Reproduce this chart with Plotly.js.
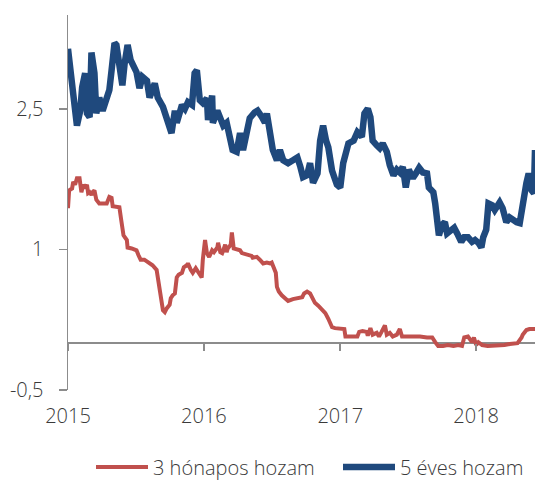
<!DOCTYPE html>
<html>
<head>
<meta charset="utf-8">
<script src="https://cdn.plot.ly/plotly-3.0.1.min.js"></script>
<style>
html,body{margin:0;padding:0;background:#fff;}
#chart{width:535px;height:482px;}
</style>
</head>
<body>
<div id="chart"></div>
<script>
// 3 hónapos hozam (3-month yield)
const redDates = ['2015-01-01','2015-01-04','2015-01-12','2015-01-15','2015-01-20','2015-01-25','2015-02-01','2015-02-06','2015-02-11','2015-02-16','2015-02-21','2015-02-24','2015-02-28','2015-03-05','2015-03-08','2015-03-13','2015-03-18','2015-03-26','2015-04-04','2015-04-15','2015-04-22','2015-04-28','2015-05-01','2015-05-11','2015-05-19','2015-05-24','2015-05-30','2015-06-08','2015-06-10','2015-06-21','2015-07-04','2015-07-09','2015-07-15','2015-07-25','2015-08-06','2015-08-16','2015-08-27','2015-08-30','2015-09-02','2015-09-07','2015-09-13','2015-09-18','2015-09-23','2015-10-01','2015-10-04','2015-10-09','2015-10-15','2015-10-20','2015-10-25','2015-11-03','2015-11-08','2015-11-16','2015-11-19','2015-11-27','2015-12-02','2015-12-10','2015-12-16','2015-12-21','2015-12-26','2015-12-29','2016-01-04','2016-01-09','2016-01-15','2016-01-23','2016-01-28','2016-02-06','2016-02-08','2016-02-14','2016-02-19','2016-02-22','2016-02-27','2016-03-02','2016-03-05','2016-03-13','2016-03-16','2016-03-21','2016-03-29','2016-04-07','2016-04-12','2016-04-20','2016-04-28','2016-05-08','2016-05-11','2016-05-22','2016-05-30','2016-06-08','2016-06-18','2016-06-26','2016-07-01','2016-07-07','2016-07-12','2016-07-15','2016-07-20','2016-07-28','2016-08-06','2016-08-14','2016-08-27','2016-09-10','2016-09-21','2016-09-26','2016-10-04','2016-10-12','2016-10-20','2016-10-25','2016-11-03','2016-11-14','2016-11-22','2016-11-30','2016-12-10','2016-12-18','2017-01-01','2017-01-12','2017-01-15','2017-01-28','2017-02-16','2017-02-21','2017-03-02','2017-03-13','2017-03-16','2017-03-23','2017-03-29','2017-04-09','2017-04-15','2017-04-22','2017-05-01','2017-05-06','2017-05-14','2017-05-22','2017-06-02','2017-06-10','2017-06-16','2017-06-29','2017-07-15','2017-07-25','2017-08-03','2017-08-22','2017-09-05','2017-09-13','2017-09-21','2017-10-04','2017-10-17','2017-11-01','2017-11-14','2017-11-24','2017-11-30','2017-12-10','2017-12-21','2017-12-26','2018-01-01','2018-01-07','2018-01-17','2018-02-01','2018-02-15','2018-03-05','2018-03-18','2018-04-01','2018-04-15','2018-04-22','2018-05-03','2018-05-06','2018-05-16','2018-05-24','2018-06-08'];
const redValues = [1.44,1.63,1.65,1.72,1.69,1.76,1.76,1.61,1.69,1.65,1.69,1.60,1.61,1.58,1.61,1.63,1.53,1.49,1.49,1.49,1.56,1.55,1.46,1.45,1.45,1.31,1.15,1.10,1.02,1.01,0.99,0.94,0.89,0.89,0.86,0.83,0.78,0.70,0.59,0.46,0.35,0.33,0.37,0.41,0.48,0.51,0.53,0.70,0.73,0.75,0.81,0.83,0.85,0.78,0.75,0.80,0.76,0.73,0.70,0.89,1.10,0.96,0.92,0.99,0.97,1.02,1.07,0.97,0.96,0.99,1.05,0.97,1.01,1.05,1.18,1.01,1.00,0.99,0.96,0.95,0.94,0.93,0.91,0.92,0.89,0.85,0.86,0.85,0.86,0.81,0.75,0.60,0.55,0.51,0.47,0.45,0.47,0.48,0.49,0.53,0.55,0.53,0.48,0.43,0.40,0.35,0.32,0.26,0.17,0.16,0.16,0.15,0.07,0.07,0.07,0.12,0.13,0.12,0.08,0.16,0.09,0.11,0.07,0.12,0.19,0.09,0.11,0.07,0.09,0.15,0.07,0.07,0.07,0.08,0.07,0.06,0.06,0.01,-0.03,-0.03,-0.02,-0.03,-0.02,-0.03,0.06,0.07,0.01,0.06,-0.02,0.01,-0.02,-0.03,-0.03,-0.03,-0.02,-0.01,-0.01,0.00,0.06,0.09,0.14,0.15,0.15];

// 5 éves hozam (5-year yield)
const blueDates = ['2015-01-01','2015-01-07','2015-01-15','2015-01-25','2015-02-03','2015-02-08','2015-02-16','2015-02-21','2015-02-28','2015-03-05','2015-03-13','2015-03-18','2015-03-26','2015-04-04','2015-04-15','2015-04-22','2015-04-28','2015-05-06','2015-05-11','2015-05-19','2015-05-27','2015-06-02','2015-06-10','2015-06-18','2015-06-23','2015-07-04','2015-07-12','2015-07-20','2015-08-01','2015-08-08','2015-08-22','2015-08-30','2015-09-13','2015-09-23','2015-10-06','2015-10-15','2015-10-20','2015-11-03','2015-11-11','2015-11-19','2015-11-30','2015-12-07','2015-12-13','2015-12-21','2015-12-29','2016-01-09','2016-01-12','2016-01-23','2016-01-25','2016-02-06','2016-02-14','2016-02-22','2016-03-02','2016-03-10','2016-03-18','2016-03-29','2016-04-07','2016-04-15','2016-04-25','2016-05-03','2016-05-16','2016-05-24','2016-06-05','2016-06-13','2016-06-18','2016-06-26','2016-07-04','2016-07-15','2016-07-23','2016-08-01','2016-08-14','2016-08-27','2016-09-08','2016-09-16','2016-09-23','2016-10-04','2016-10-12','2016-10-20','2016-11-01','2016-11-08','2016-11-16','2016-11-24','2016-11-30','2016-12-10','2016-12-23','2017-01-01','2017-01-09','2017-01-23','2017-02-06','2017-02-16','2017-02-28','2017-03-07','2017-03-16','2017-03-23','2017-03-29','2017-04-09','2017-04-17','2017-04-25','2017-05-06','2017-05-14','2017-05-24','2017-06-02','2017-06-10','2017-06-18','2017-06-26','2017-07-04','2017-07-15','2017-07-23','2017-08-01','2017-08-11','2017-08-22','2017-08-27','2017-09-08','2017-09-13','2017-09-18','2017-09-23','2017-10-01','2017-10-09','2017-10-15','2017-10-25','2017-11-03','2017-11-11','2017-11-22','2017-11-30','2017-12-10','2017-12-21','2017-12-29','2018-01-07','2018-01-15','2018-01-20','2018-01-28','2018-02-03','2018-02-13','2018-02-20','2018-02-28','2018-03-05','2018-03-13','2018-03-23','2018-04-01','2018-04-09','2018-04-20','2018-04-28','2018-05-06','2018-05-16','2018-05-22','2018-05-30','2018-06-05','2018-06-08'];
const blueValues = [3.14,2.98,2.66,2.32,2.48,2.73,2.88,2.45,2.41,3.10,2.88,2.45,2.62,2.48,2.64,2.70,2.91,3.20,3.18,3.00,2.75,2.98,3.18,3.02,2.98,2.89,2.72,2.84,2.80,2.62,2.77,2.62,2.52,2.38,2.24,2.48,2.35,2.54,2.50,2.57,2.54,2.88,2.91,2.59,2.56,2.61,2.38,2.64,2.35,2.48,2.38,2.32,2.35,2.20,2.06,2.04,2.24,2.06,2.27,2.40,2.46,2.48,2.41,2.35,2.45,2.20,2.06,1.95,2.06,1.95,1.92,1.95,1.98,1.88,1.77,1.79,1.92,1.71,1.81,2.16,2.32,2.16,2.09,1.84,1.69,1.66,1.92,2.13,2.16,2.25,2.20,2.45,2.50,2.41,2.16,2.11,2.08,2.13,2.04,1.90,1.79,1.85,1.82,1.88,1.66,1.85,1.76,1.81,1.87,1.82,1.81,1.66,1.61,1.49,1.28,1.15,1.26,1.29,1.17,1.21,1.23,1.17,1.08,1.13,1.13,1.08,1.10,1.07,1.02,1.13,1.21,1.49,1.47,1.42,1.49,1.50,1.44,1.29,1.34,1.31,1.29,1.28,1.53,1.71,1.81,1.63,1.60,2.06];

const yTickVals = [-0.5, 1, 2.5];
const yTickText = ['-0,5', '1', '2,5'];
const xTickVals = ['2015-01-01', '2016-01-01', '2017-01-01', '2018-01-01'];
const xTickText = ['2015', '2016', '2017', '2018'];
const xRange = ['2015-01-01', '2018-06-08'];
const yRange = [-0.5, 3.5];

const axisGray = '#8c8c8c';
const textColor = '#3a3a3a';
const fontFamily = 'Open Sans, Noto Sans, sans-serif';
const fontSize = 20;
const textFont = {family: fontFamily, size: fontSize, color: textColor, weight: 300};

const traces = [
  {
    x: redDates, y: redValues, type: 'scatter', mode: 'lines',
    name: '3 hónapos hozam', legend: 'legend',
    line: {color: '#C0504D', width: 4}
  },
  {
    x: blueDates, y: blueValues, type: 'scatter', mode: 'lines',
    name: '5 éves hozam', legend: 'legend2',
    line: {color: '#1F497D', width: 6.5}
  },
  {
    x: [], y: [], xaxis: 'x2', type: 'scatter', mode: 'lines',
    showlegend: false, hoverinfo: 'skip'
  }
];

const legendBase = {
  orientation: 'h', xref: 'container', yref: 'container',
  xanchor: 'left', y: 0.031, yanchor: 'middle',
  font: textFont, itemwidth: 52, itemclick: false, bgcolor: 'rgba(0,0,0,0)'
};

const layout = {
  width: 535, height: 482,
  margin: {l: 68, r: 0, t: 15, b: 92, pad: 0},
  paper_bgcolor: '#ffffff', plot_bgcolor: '#ffffff',
  font: textFont,
  showlegend: true,
  legend: Object.assign({}, legendBase, {x: 91 / 535}),
  legend2: Object.assign({}, legendBase, {x: 338 / 535}),
  xaxis: {
    type: 'date', range: xRange, fixedrange: true,
    tickmode: 'array', tickvals: xTickVals, ticktext: xTickText,
    ticks: '', showline: false, showgrid: false, zeroline: false,
    ticklabelstandoff: 12,
    tickfont: textFont
  },
  xaxis2: {
    type: 'date', range: xRange, fixedrange: true, overlaying: 'x',
    anchor: 'free', position: 0.125, side: 'bottom',
    tickmode: 'array', tickvals: xTickVals,
    ticks: 'outside', ticklen: 7, tickwidth: 1.5, tickcolor: axisGray,
    showticklabels: false, showline: false, showgrid: false, zeroline: false
  },
  yaxis: {
    range: yRange, fixedrange: true,
    tickmode: 'array', tickvals: yTickVals, ticktext: yTickText,
    ticks: 'outside', ticklen: 8, tickwidth: 1.5, tickcolor: axisGray,
    showline: true, linecolor: axisGray, linewidth: 1.5,
    showgrid: false,
    zeroline: true, zerolinecolor: axisGray, zerolinewidth: 1.5,
    ticklabelstandoff: 11,
    tickfont: textFont
  }
};

Plotly.newPlot('chart', traces, layout, {displayModeBar: false, staticPlot: true});
</script>
</body>
</html>
